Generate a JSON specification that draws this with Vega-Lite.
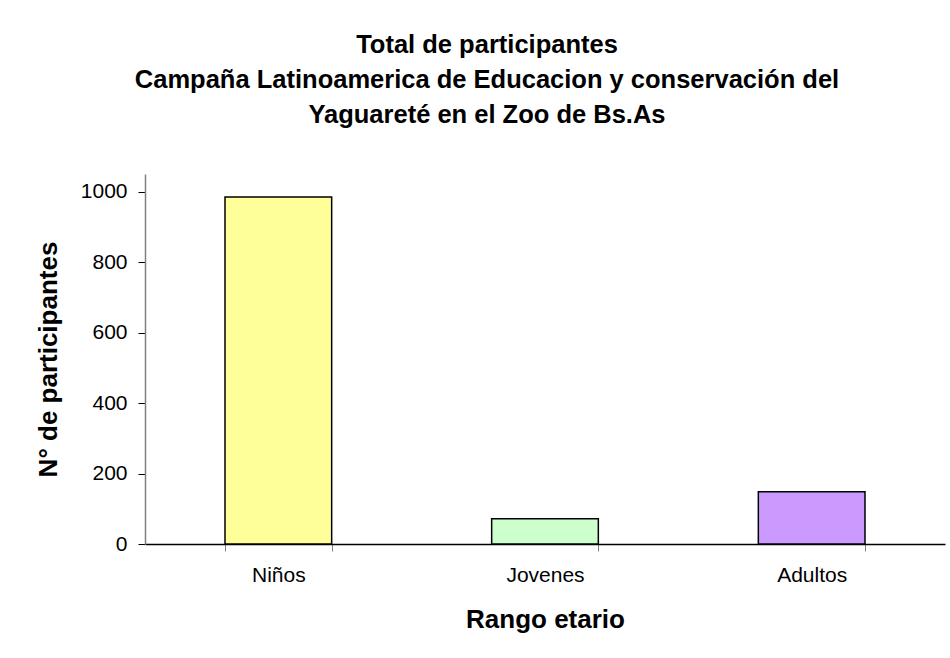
{
  "$schema": "https://vega.github.io/schema/vega-lite/v6.json",
  "autosize": "none",
  "width": 800,
  "height": 370,
  "padding": {"left": 145, "top": 174, "right": 5, "bottom": 114},
  "background": "white",
  "config": {
    "view": {"stroke": null},
    "font": "Liberation Sans"
  },
  "title": {
    "text": ["Total de participantes", "Campaña Latinoamerica de Educacion y conservación del", "Yaguareté en el Zoo de Bs.As"],
    "font": "Liberation Sans",
    "fontSize": 25.5,
    "fontWeight": "bold",
    "lineHeight": 35,
    "anchor": "middle",
    "dx": -58,
    "offset": 46,
    "color": "black"
  },
  "data": {
    "values": [
      {"rango": "Niños", "participantes": 985},
      {"rango": "Jovenes", "participantes": 72},
      {"rango": "Adultos", "participantes": 148}
    ]
  },
  "mark": {"type": "bar", "stroke": "black", "strokeWidth": 1.5},
  "encoding": {
    "x": {
      "field": "rango",
      "type": "nominal",
      "sort": ["Niños", "Jovenes", "Adultos"],
      "scale": {"paddingInner": 0.6, "paddingOuter": 0.3},
      "title": "Rango etario",
      "axis": {
        "labelAngle": 0,
        "labelFont": "Liberation Sans",
        "labelFontSize": 21,
        "labelColor": "black",
        "labelPadding": 13,
        "domainColor": "black",
        "domainWidth": 1.5,
        "tickColor": "#808080",
        "tickSize": 7,
        "tickBand": "extent",
        "titleFont": "Liberation Sans",
        "titleFontSize": 26,
        "titleFontWeight": "bold",
        "titleColor": "black",
        "titlePadding": 21
      }
    },
    "y": {
      "field": "participantes",
      "type": "quantitative",
      "scale": {"domain": [0, 1050], "nice": false},
      "title": "N° de participantes",
      "axis": {
        "values": [0, 200, 400, 600, 800, 1000],
        "format": "d",
        "grid": false,
        "labelFont": "Liberation Sans",
        "labelFontSize": 21,
        "labelColor": "black",
        "labelPadding": 11,
        "domainColor": "#808080",
        "domainWidth": 1.5,
        "tickColor": "black",
        "tickSize": 7,
        "titleFont": "Liberation Sans",
        "titleFontSize": 26,
        "titleFontWeight": "bold",
        "titleColor": "black",
        "titlePadding": 19
      }
    },
    "color": {
      "field": "rango",
      "type": "nominal",
      "scale": {"domain": ["Niños", "Jovenes", "Adultos"], "range": ["#FFFF99", "#CCFFCC", "#CC99FF"]},
      "legend": null
    }
  }
}
